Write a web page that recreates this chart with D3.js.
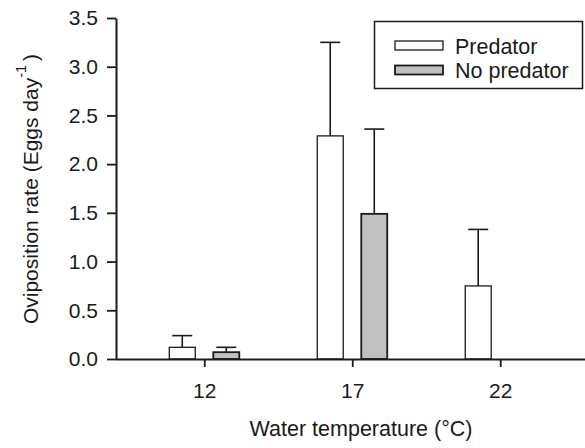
<!DOCTYPE html>
<html>
<head>
<meta charset="utf-8">
<script src="https://cdn.jsdelivr.net/npm/d3@7"></script>
<style>
  body { margin: 0; background: #fff; }
  svg { display: block; }
  text { font-family: "Liberation Sans", Arial, sans-serif; fill: #1a1a1a; }
</style>
</head>
<body>
<div id="chart"></div>
<script>
// Temperatures (categories) and series
const temperatures = [12, 17, 22];
const groups = ["Predator", "No predator"];
const predatorMean = [0.12, 2.29, 0.75];
const predatorSE = [0.12, 0.96, 0.58];
const noPredatorMean = [0.07, 1.49, null];
const noPredatorSE = [0.05, 0.87, null];
const yTicks = [0, 0.5, 1.0, 1.5, 2.0, 2.5, 3.0, 3.5];

const width = 585, height = 448;
const fills = { "Predator": "#ffffff", "No predator": "#c0c0c0" };

const svg = d3.select('#chart')
    .append('svg')
    .attr('width', width)
    .attr('height', height);

// scales
const x = d3.scaleLinear()
    .domain([9, 25])
    .range([115.5, 589]);

const xSub = d3.scaleBand()
    .domain(groups)
    .range([-35, 35])
    .paddingInner(0.41)
    .paddingOuter(0);

const y = d3.scaleLinear()
    .domain([0, 3.5])
    .range([359, 18]);

// build rows from the arrays
const rows = [];
temperatures.forEach((t, i) => {
    rows.push({ t: t, group: "Predator", mean: predatorMean[i], se: predatorSE[i] });
    rows.push({ t: t, group: "No predator", mean: noPredatorMean[i], se: noPredatorSE[i] });
});
const drawn = rows.filter(d => d.mean !== null);

// bars
svg.append("g")
    .selectAll("rect")
    .data(drawn)
    .enter()
    .append("rect")
    .attr("x", d => x(d.t) + xSub(d.group))
    .attr("y", d => y(d.mean))
    .attr("width", xSub.bandwidth())
    .attr("height", d => y(0) - y(d.mean))
    .attr("fill", d => fills[d.group])
    .attr("stroke", "#1a1a1a")
    .attr("stroke-width", d => d.group === "Predator" ? 1.3 : 1.8);

// error bars (upper only)
const err = svg.append("g")
    .attr("stroke", "#1a1a1a")
    .attr("stroke-width", 1.6);
const cx = d => x(d.t) + xSub(d.group) + xSub.bandwidth() / 2;
err.selectAll("line.v")
    .data(drawn)
    .enter()
    .append("line")
    .attr("class", "v")
    .attr("x1", cx).attr("x2", cx)
    .attr("y1", d => y(d.mean))
    .attr("y2", d => y(d.mean + d.se));
err.selectAll("line.cap")
    .data(drawn)
    .enter()
    .append("line")
    .attr("class", "cap")
    .attr("x1", d => cx(d) - 10).attr("x2", d => cx(d) + 10)
    .attr("y1", d => y(d.mean + d.se))
    .attr("y2", d => y(d.mean + d.se));

// axes
const yAxis = svg.append("g")
    .attr("transform", "translate(116,0)")
    .call(d3.axisLeft(y)
        .tickValues(yTicks)
        .tickFormat(d3.format(".1f"))
        .tickSize(9)
        .tickSizeOuter(0)
        .tickPadding(9));

const xAxis = svg.append("g")
    .attr("transform", "translate(0,359)")
    .call(d3.axisBottom(x)
        .tickValues(temperatures)
        .tickFormat(d => d)
        .tickSize(8)
        .tickSizeOuter(0)
        .tickPadding(16));

[yAxis, xAxis].forEach(a => {
    a.select(".domain").attr("stroke", "#1a1a1a").attr("stroke-width", 2);
    a.selectAll(".tick line").attr("stroke", "#1a1a1a").attr("stroke-width", 1.8);
    a.selectAll(".tick text")
        .attr("fill", "#1a1a1a")
        .style("font-size", "21px")
        .style("font-family", '"Liberation Sans", Arial, sans-serif');
});

// axis titles
svg.append("text")
    .attr("x", 361)
    .attr("y", 436)
    .attr("text-anchor", "middle")
    .style("font-size", "21.5px")
    .text("Water temperature (°C)");

const yTitle = svg.append("text")
    .attr("transform", "translate(37.5,189) rotate(-90)")
    .attr("text-anchor", "middle")
    .style("font-size", "21px");
yTitle.append("tspan").text("Oviposition rate (Eggs day");
yTitle.append("tspan").attr("dy", -12).style("font-size", "14.5px").text("-1");
yTitle.append("tspan").attr("dy", 12).attr("dx", 4).text(")");

// legend
const legend = svg.append("g");
legend.append("rect")
    .attr("x", 374.5).attr("y", 21.5)
    .attr("width", 208).attr("height", 67)
    .attr("fill", "#fff")
    .attr("stroke", "#1a1a1a")
    .attr("stroke-width", 1.5);

const item = legend.selectAll("g.item")
    .data(groups)
    .enter()
    .append("g")
    .attr("class", "item")
    .attr("transform", (d, i) => `translate(0,${i * 24.5})`);
item.append("rect")
    .attr("x", 395).attr("y", 41)
    .attr("width", 48).attr("height", 9)
    .attr("fill", d => fills[d])
    .attr("stroke", "#1a1a1a")
    .attr("stroke-width", d => d === "Predator" ? 1.3 : 1.8);
item.append("text")
    .attr("x", 455).attr("y", 53.5)
    .style("font-size", "21.5px")
    .text(d => d);
</script>
</body>
</html>
